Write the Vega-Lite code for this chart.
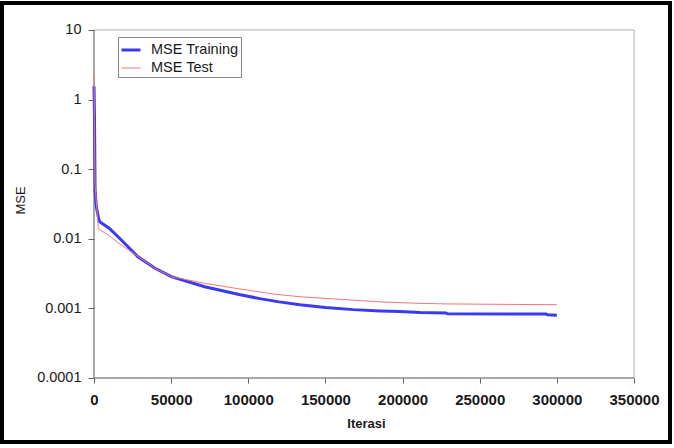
{
  "$schema": "https://vega.github.io/schema/vega-lite/v6.json",
  "width": 668,
  "height": 439,
  "autosize": {"type": "none"},
  "padding": {"left": 2, "top": 3, "right": 4, "bottom": 6},
  "background": "white",
  "config": {
    "view": {"stroke": "black", "strokeWidth": 4, "fill": "white"},
    "font": "Liberation Sans"
  },
  "datasets": {
    "series": [
      {"iter": 0, "mse": 1.55, "series": "MSE Training"},
      {"iter": 300, "mse": 0.6, "series": "MSE Training"},
      {"iter": 700, "mse": 0.05, "series": "MSE Training"},
      {"iter": 1500, "mse": 0.029, "series": "MSE Training"},
      {"iter": 3000, "mse": 0.0195, "series": "MSE Training"},
      {"iter": 3700, "mse": 0.0176, "series": "MSE Training"},
      {"iter": 10000, "mse": 0.0141, "series": "MSE Training"},
      {"iter": 17700, "mse": 0.0096, "series": "MSE Training"},
      {"iter": 28500, "mse": 0.0055, "series": "MSE Training"},
      {"iter": 39300, "mse": 0.0038, "series": "MSE Training"},
      {"iter": 50100, "mse": 0.00286, "series": "MSE Training"},
      {"iter": 71750, "mse": 0.00205, "series": "MSE Training"},
      {"iter": 94000, "mse": 0.00158, "series": "MSE Training"},
      {"iter": 108400, "mse": 0.00137, "series": "MSE Training"},
      {"iter": 120000, "mse": 0.00124, "series": "MSE Training"},
      {"iter": 133500, "mse": 0.00113, "series": "MSE Training"},
      {"iter": 150000, "mse": 0.00103, "series": "MSE Training"},
      {"iter": 168000, "mse": 0.00096, "series": "MSE Training"},
      {"iter": 185400, "mse": 0.00092, "series": "MSE Training"},
      {"iter": 198300, "mse": 0.0009, "series": "MSE Training"},
      {"iter": 211300, "mse": 0.00087, "series": "MSE Training"},
      {"iter": 228000, "mse": 0.00086, "series": "MSE Training"},
      {"iter": 229000, "mse": 0.00084, "series": "MSE Training"},
      {"iter": 293000, "mse": 0.00083, "series": "MSE Training"},
      {"iter": 294000, "mse": 0.00081, "series": "MSE Training"},
      {"iter": 300000, "mse": 0.0008, "series": "MSE Training"},
      {"iter": 0, "mse": 2.3, "series": "MSE Test"},
      {"iter": 300, "mse": 0.3, "series": "MSE Test"},
      {"iter": 700, "mse": 0.06, "series": "MSE Test"},
      {"iter": 2800, "mse": 0.0139, "series": "MSE Test"},
      {"iter": 9070, "mse": 0.0114, "series": "MSE Test"},
      {"iter": 17700, "mse": 0.0081, "series": "MSE Test"},
      {"iter": 28500, "mse": 0.0056, "series": "MSE Test"},
      {"iter": 39300, "mse": 0.0038, "series": "MSE Test"},
      {"iter": 50100, "mse": 0.00286, "series": "MSE Test"},
      {"iter": 71750, "mse": 0.00229, "series": "MSE Test"},
      {"iter": 93300, "mse": 0.00192, "series": "MSE Test"},
      {"iter": 116000, "mse": 0.00161, "series": "MSE Test"},
      {"iter": 133500, "mse": 0.00147, "series": "MSE Test"},
      {"iter": 159400, "mse": 0.00135, "series": "MSE Test"},
      {"iter": 185400, "mse": 0.00124, "series": "MSE Test"},
      {"iter": 211300, "mse": 0.00118, "series": "MSE Test"},
      {"iter": 228600, "mse": 0.00116, "series": "MSE Test"},
      {"iter": 270700, "mse": 0.00114, "series": "MSE Test"},
      {"iter": 300000, "mse": 0.00113, "series": "MSE Test"}
    ],
    "frame": [{"iter": 0, "iter2": 350000, "mse": 0.0001, "mse2": 10}]
  },
  "layer": [
    {
      "data": {"name": "frame"},
      "mark": {"type": "rect", "fill": "white", "stroke": "#b0b0b0", "strokeWidth": 1},
      "encoding": {
        "x": {
          "field": "iter", "type": "quantitative",
          "scale": {"domain": [-59630, 373333], "nice": false, "zero": false},
          "axis": {
            "title": "Iterasi", "offset": -64, "domain": false, "grid": false, "zindex": 2,
            "values": [0, 50000, 100000, 150000, 200000, 250000, 300000, 350000],
            "format": "d", "tickSize": 5, "tickColor": "#606060",
            "labelFont": "Liberation Sans", "labelFontSize": 15, "labelFontWeight": "bold",
            "labelColor": "#1a1a1a", "labelPadding": 9, "labelFlush": false, "labelOverlap": false,
            "titleFont": "Liberation Sans", "titleFontSize": 13, "titleFontWeight": "bold",
            "titleColor": "#1a1a1a", "titleX": 364, "titleY": 45, "titleAlign": "center", "titleBaseline": "middle"
          }
        },
        "x2": {"field": "iter2"},
        "y": {
          "field": "mse", "type": "quantitative",
          "scale": {"type": "log", "domain": [0.00001203, 24.43], "nice": false},
          "axis": {
            "title": "MSE", "offset": -92, "domain": false, "grid": false, "zindex": 2,
            "values": [0.0001, 0.001, 0.01, 0.1, 1, 10],
            "format": "~g", "tickSize": 6, "tickColor": "#606060",
            "labelFont": "Liberation Sans", "labelFontSize": 14.5, "labelFontWeight": "normal",
            "labelColor": "#1a1a1a", "labelPadding": 7, "labelFlush": false, "labelOverlap": false,
            "titleFont": "Liberation Sans", "titleFontSize": 13, "titleFontWeight": "normal",
            "titleColor": "#1a1a1a", "titleX": -74, "titleY": 197, "titleAlign": "center", "titleBaseline": "middle", "titleAngle": -90
          }
        },
        "y2": {"field": "mse2"}
      }
    },
    {
      "data": {"name": "frame"},
      "mark": {"type": "rule", "stroke": "#7a7a7a", "strokeWidth": 1},
      "encoding": {
        "x": {"field": "iter", "type": "quantitative"},
        "y": {"field": "mse", "type": "quantitative"},
        "y2": {"field": "mse2"}
      }
    },
    {
      "data": {"name": "frame"},
      "mark": {"type": "rule", "stroke": "#7a7a7a", "strokeWidth": 1},
      "encoding": {
        "x": {"field": "iter", "type": "quantitative"},
        "x2": {"field": "iter2"},
        "y": {"field": "mse", "type": "quantitative"}
      }
    },
    {
      "data": {"name": "series"},
      "mark": {"type": "line", "clip": true},
      "encoding": {
        "x": {"field": "iter", "type": "quantitative"},
        "y": {"field": "mse", "type": "quantitative"},
        "color": {
          "field": "series", "type": "nominal",
          "scale": {"domain": ["MSE Training", "MSE Test"], "range": ["#3a3af0", "#f07878"]},
          "legend": {
            "orient": "none", "legendX": 116, "legendY": 34, "title": null,
            "symbolType": "stroke", "symbolSize": 361, "labelFontSize": 14.5, "labelFont": "Liberation Sans",
            "labelColor": "#1a1a1a", "strokeColor": "#888888", "fillColor": "white", "padding": 2,
            "rowPadding": 1, "labelOffset": 9
          }
        },
        "strokeWidth": {
          "field": "series", "type": "nominal",
          "scale": {"domain": ["MSE Training", "MSE Test"], "range": [3, 1]},
          "legend": {
            "orient": "none", "legendX": 116, "legendY": 34, "title": null,
            "symbolType": "stroke", "symbolSize": 361, "labelFontSize": 14.5, "labelFont": "Liberation Sans",
            "labelColor": "#1a1a1a", "strokeColor": "#888888", "fillColor": "white", "padding": 2,
            "rowPadding": 1, "labelOffset": 9
          }
        },
        "order": {"field": "iter", "type": "quantitative"}
      }
    }
  ]
}
